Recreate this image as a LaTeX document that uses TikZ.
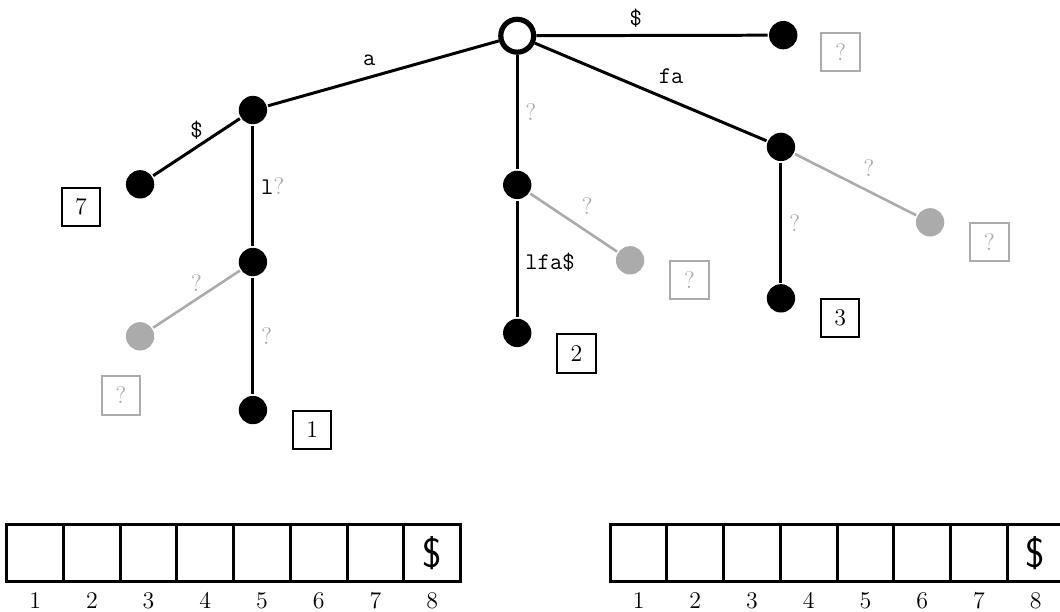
\documentclass[tikz,border=0pt]{standalone}
\usetikzlibrary{positioning}
\colorlet{lost}{black!33}

\begin{document}
\begin{tikzpicture}[line width=1.5pt]
    \tikzstyle{every node}=[font=\large]
    \tikzstyle{root}=[circle,draw,line width=2.6pt,fill=white,minimum size=0.58cm,inner sep=0pt]
    \tikzstyle{inner}=[circle,fill=black,minimum size=0.5cm,inner sep=0pt]
    \tikzstyle{ghost}=[circle,fill=lost,minimum size=0.5cm,inner sep=0pt]
    \tikzstyle{leafnum}=[rectangle,draw,line width=1pt,minimum size=0.68cm,inner sep=0pt]
    \tikzstyle{leafunk}=[leafnum,draw=lost,text=lost]
    \tikzstyle{lbl}=[font=\large\ttfamily]
    \tikzstyle{unk}=[text=lost]
    \tikzstyle{cell}=[rectangle,draw,line width=1.5pt,minimum size=1cm,inner sep=0pt]
    \tikzstyle{index}=[inner sep=1pt]

    \clip (0,0) rectangle (18.69,-10.79);

    %%% DRAW THE TREE NODES
    \node[inner] (A) at (4.46,-1.94) {};
    \node[inner] (L) at (4.46,-4.62) {};
    \node[inner] (l7) at (2.47,-3.25) {};
    \node[ghost] (gL) at (2.47,-5.93) {};
    \node[inner] (l1) at (4.46,-7.23) {};
    \node[inner] (M) at (9.12,-3.26) {};
    \node[ghost] (gM) at (11.11,-4.59) {};
    \node[inner] (l2) at (9.12,-5.87) {};
    \node[inner] (ld) at (13.81,-0.62) {};
    \node[inner] (F) at (13.77,-2.59) {};
    \node[ghost] (gF) at (16.40,-3.92) {};
    \node[inner] (l3) at (13.77,-5.26) {};

    %%% DRAW THE PATHS
    \path (A) edge node[lbl,above] {\$} (l7);
    \path (A) edge node[right] {{\ttfamily l}\textcolor{lost}{?}} (L);
    \path[draw=lost,line width=1.3pt] (L) edge node[unk,above] {?} (gL);
    \path (L) edge node[unk,right] {?} (l1);
    \path[draw=lost,line width=1.3pt] (M) edge node[unk,above right] {?} (gM);
    \path (M) edge node[lbl,right,pos=0.53] {lfa\$} (l2);
    \path[draw=lost,line width=1.3pt] (F) edge node[unk,above right] {?} (gF);
    \path (F) edge node[unk,right] {?} (l3);

    \node[root] (R) at (9.12,-0.63) {};
    \path (R) edge node[lbl,above left] {a} (A);
    \path (R) edge node[unk,right] {?} (M);
    \path (R) edge node[lbl,above,pos=0.43] {\$} (ld);
    \path (R) edge node[lbl,above right] {fa} (F);

    %%% LEAF NUMBERS
    \node[leafnum,left=0.41cm of l7,yshift=-0.4cm] (b7) {7};
    \node[leafnum,right=0.41cm of l1,yshift=-0.35cm] (b1) {1};
    \node[leafnum,right=0.41cm of l2,yshift=-0.36cm] (b2) {2};
    \node[leafnum,right=0.41cm of l3,yshift=-0.35cm] (b3) {3};
    \node[leafunk,below=0.41cm of gL,xshift=-0.34cm] (bgL) {?};
    \node[leafunk,right=0.41cm of gM,yshift=-0.35cm] (bgM) {?};
    \node[leafunk,right=0.41cm of gF,yshift=-0.35cm] (bgF) {?};
    \node[leafunk,right=0.38cm of ld,yshift=-0.3cm] (bd) {?};

    %%% DRAW THE ARRAYS
    \foreach \i in {1,...,8} {
        \node[cell] (SL-\i) at (\i-0.38,-9.75) {};
        \node[index] (NL-\i) at (\i-0.38,-10.59) {\i};
        \node[cell] (SR-\i) at (\i+10.26,-9.75) {};
        \node[index] (NR-\i) at (\i+10.26,-10.59) {\i};
    }
    \node at (SL-8) {\huge\textsf{\$}};
    \node at (SR-8) {\huge\textsf{\$}};

\end{tikzpicture}
\end{document}
